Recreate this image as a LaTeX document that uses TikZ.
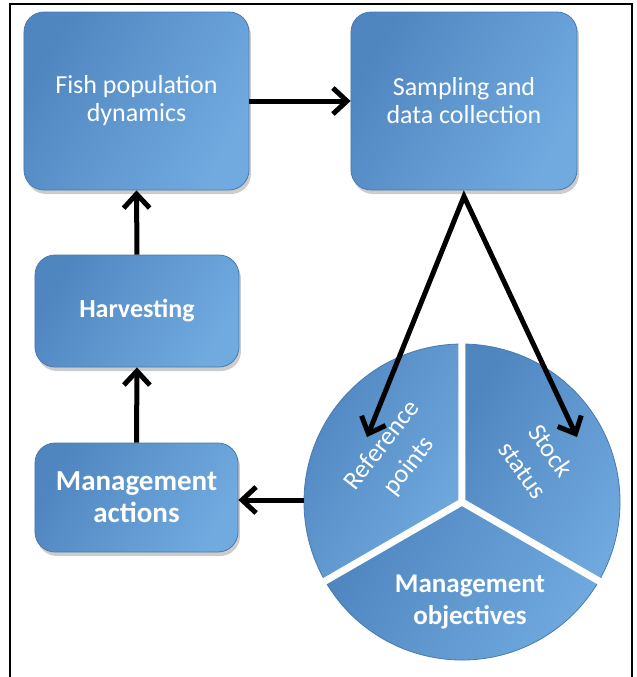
\documentclass[tikz,border=0pt]{standalone}
\usepackage{fontspec}
\setmainfont{Carlito}
\usetikzlibrary{arrows.meta,shadows}
\definecolor{boxdark}{RGB}{80,134,192}
\definecolor{boxlight}{RGB}{112,170,223}
\definecolor{boxedge}{RGB}{72,122,178}
\begin{document}
\begin{tikzpicture}[
        x=0.5pt, y=0.5pt,
        % Kästen mit Verlauf und leichtem Schatten
        stage/.style={rectangle, rounded corners=10pt, draw=boxedge, line width=0.4pt,
            left color=boxdark, right color=boxlight, shading angle=60,
            text=white, align=center, font=\fontsize{13}{14}\selectfont,
            drop shadow={shadow xshift=1pt, shadow yshift=-2pt, fill=black!40, opacity=0.5}},
        % Tortenstücke
        slice/.style={draw=boxedge, line width=0.4pt,
            left color=boxdark, right color=boxlight, shading angle=60},
        slicetext/.style={text=white, align=center, font=\fontsize{13}{17}\selectfont},
        flow/.style={line width=2.5pt, -{Straight Barb[length=7pt,width=13pt]}},
        split/.style={line width=2.5pt,
            {Straight Barb[length=7pt,width=13pt]}-{Straight Barb[length=7pt,width=13pt]}}
    ]
    \useasboundingbox (0,0) rectangle (637,-677);
    \draw[line width=1pt] (10,-4) rectangle (632,-700);

    \node[stage, minimum width=112.5pt, minimum height=89pt] (fish) at (136.5,-101)
        {Fish population\\dynamics};
    \node[stage, minimum width=113pt, minimum height=89pt] (samp) at (464,-101)
        {Sampling and\\data collection};
    \node[stage, minimum width=102pt, minimum height=56pt, font=\bfseries\fontsize{13}{14}\selectfont]
        (harv) at (137,-311) {Harvesting};
    \node[stage, minimum width=101.5pt, minimum height=54.5pt, font=\bfseries\fontsize{14.5}{16}\selectfont]
        (ma) at (136.5,-497.5) {Management\\actions};

    % Torte mit drei Stücken, weiße Fugen dazwischen
    \coordinate (pc) at (462,-502);
    \path[slice] (pc) -- ++(90:79pt) arc[start angle=90, end angle=210, radius=79pt] -- cycle;
    \path[slice] (pc) -- ++(210:79pt) arc[start angle=210, end angle=330, radius=79pt] -- cycle;
    \path[slice] (pc) -- ++(330:79pt) arc[start angle=330, end angle=450, radius=79pt] -- cycle;
    \draw[white, line width=3.5pt] (pc) -- ++(90:81pt) (pc) -- ++(210:81pt) (pc) -- ++(330:81pt);

    \node[slicetext, rotate=52] (refLbl) at (396,-456) {Reference\\points};
    \node[slicetext, rotate=-55] (stockLbl) at (537,-460) {Stock\\status};
    \node[slicetext, font=\bfseries\fontsize{13.5}{16}\selectfont] (objLbl) at (470,-602)
        {Management\\objectives};

    \coordinate (refTip) at (367,-437);
    \coordinate (stockTip) at (577,-437);
    \coordinate (pieW) at (304,-500);

    \draw[flow] (fish.east) -- (samp.west);
    \draw[flow] (harv.north) -- (fish.south);
    \draw[flow] (ma.north) -- (harv.south);
    \draw[flow] (pieW) -- (pieW -| ma.east);
    \draw[split] (refTip) -- ([yshift=-3pt]samp.south) -- (stockTip);
\end{tikzpicture}
\end{document}
